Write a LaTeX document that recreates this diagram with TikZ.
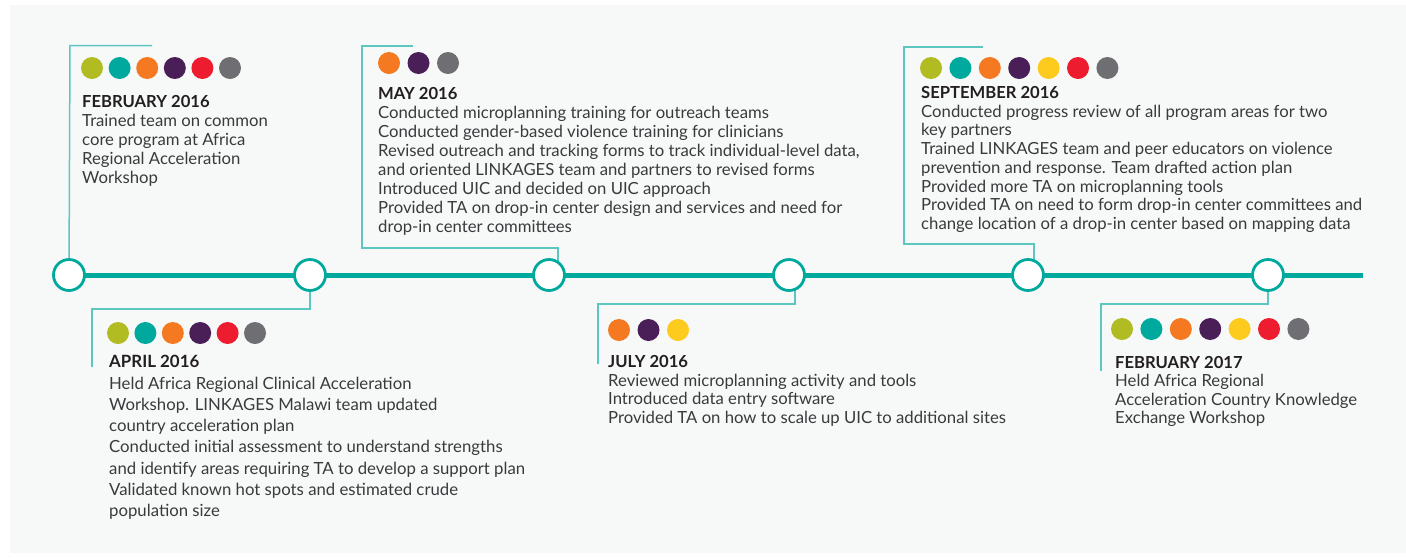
\documentclass[tikz,border=0pt]{standalone}
\usepackage{fontspec}
\setmainfont{Lato}
\definecolor{bgc}{HTML}{F7F9F9}
\definecolor{tl}{HTML}{00A99D}
\definecolor{tlc}{HTML}{5CC6BF}
\definecolor{dg}{HTML}{B0BC22}
\definecolor{dt}{HTML}{00A99D}
\definecolor{do}{HTML}{F47920}
\definecolor{dp}{HTML}{4A1E56}
\definecolor{dy}{HTML}{FDCB1E}
\definecolor{dr}{HTML}{ED1C2E}
\definecolor{dgr}{HTML}{6E6E73}
\definecolor{ttc}{HTML}{231F20}
\definecolor{bdc}{HTML}{3A3A3C}
\begin{document}
\begin{tikzpicture}[x=1pt,y=-1pt,
  conn/.style={draw=tlc,line width=1.5pt},
  mile/.style={circle,draw=tl,line width=2.8pt,fill=white,minimum size=31pt,inner sep=0pt},
  ttl/.style={anchor=base west,inner sep=0pt,text=ttc,font=\fontsize{16.6}{19}\selectfont\bfseries},
  body/.style={anchor=base west,inner sep=0pt,text=bdc,font=\fontsize{16.7}{19}\selectfont},
  bodyb/.style={anchor=base west,inner sep=0pt,text=bdc,font=\fontsize{16.75}{20}\selectfont},
  ttlb/.style={anchor=base west,inner sep=0pt,text=ttc,font=\fontsize{16.9}{20}\selectfont\bfseries}]
\useasboundingbox (0,0) rectangle (1406,558);
\fill[bgc] (10,5) rectangle (1406,553);

% milestones (positions)
\coordinate (p1) at (69,275);
\coordinate (p2) at (310,275);
\coordinate (p3) at (549,275);
\coordinate (p4) at (789,275);
\coordinate (p5) at (1028,275);
\coordinate (p6) at (1268,275);
\coordinate (tend) at (1363,275);

% connectors
\coordinate (f1a) at (70,45.5);
\coordinate (f1b) at (152,45.5);
\draw[conn] (p1) -- (f1a) -- (f1b);

\coordinate (a2a) at (92,309);
\coordinate (a2b) at (92,367);
\draw[conn] (p2) |- (a2a) -- (a2b);

\coordinate (m3a) at (413,46);
\coordinate (m3b) at (362,46);
\coordinate (m3c) at (362,248);
\coordinate (m3d) at (558,248);
\draw[conn] (m3a) -- (m3b) -- (m3c) -- (m3d) -- (m3d |- p3);

\coordinate (j4a) at (795,304);
\coordinate (j4b) at (598,304);
\coordinate (j4c) at (598,364);
\draw[conn] (j4a |- p4) -- (j4a) -- (j4b) -- (j4c);

\coordinate (s5a) at (983,47);
\coordinate (s5b) at (904,47);
\coordinate (s5c) at (904,244);
\coordinate (s5d) at (1034,244);
\draw[conn] (s5a) -- (s5b) -- (s5c) -- (s5d) -- (s5d |- p5);

\coordinate (e6a) at (1101,304);
\coordinate (e6b) at (1101,371);
\draw[conn] (p6) |- (e6a) -- (e6b);

% timeline
\draw[tl,line width=5pt] (p1) -- (tend);
\foreach \i in {1,...,6} \node[mile] (c\i) at (p\i) {};

% dots
\foreach \c [count=\i from 0] in {dg,dt,do,dp,dr,dgr} \fill[\c] (92+27.6*\i,68) circle (11);
\foreach \c [count=\i from 0] in {dg,dt,do,dp,dr,dgr} \fill[\c] (118+27.4*\i,333) circle (11);
\foreach \c [count=\i from 0] in {do,dp,dgr} \fill[\c] (389+29.5*\i,63) circle (11);
\foreach \c [count=\i from 0] in {do,dp,dy} \fill[\c] (619+29.5*\i,330) circle (11);
\foreach \c [count=\i from 0] in {dg,dt,do,dp,dy,dr,dgr} \fill[\c] (931+29.4*\i,68) circle (11);
\foreach \c [count=\i from 0] in {dg,dt,do,dp,dy,dr,dgr} \fill[\c] (1122+29.4*\i,329) circle (11);

% February 2016
\node[ttl] (t1) at (82,107) {FEBRUARY 2016};
\foreach \s [count=\i] in {Trained team on common,core program at Africa,Regional Acceleration,Workshop}
  \node[body] (b1-\i) at (82,107+19*\i) {\s};

% April 2016
\node[ttlb] (t2) at (109,367) {APRIL 2016};
\foreach \s [count=\i] in {Held Africa Regional Clinical Acceleration,Workshop. LINKAGES Malawi team updated,country acceleration plan,Conducted initial assessment to understand strengths,and identify areas requiring TA to develop a support plan,Validated known hot spots and estimated crude,population size}
  \node[bodyb] (b2-\i) at (109,368+21.2*\i) {\s};

% May 2016
\node[ttl] (t3) at (378,99) {MAY 2016};
\foreach \s [count=\i] in {Conducted microplanning training for outreach teams,Conducted gender-based violence training for clinicians,{Revised outreach and tracking forms to track individual-level data,},and oriented LINKAGES team and partners to revised forms,Introduced UIC and decided on UIC approach,Provided TA on drop-in center design and services and need for,drop-in center committees}
  \node[body] (b3-\i) at (378,99+19*\i) {\s};

% July 2016
\node[ttl] (t4) at (608,367) {JULY 2016};
\foreach \s [count=\i] in {Reviewed microplanning activity and tools,Introduced data entry software,Provided TA on how to scale up UIC to additional sites}
  \node[body] (b4-\i) at (608,367.5+18.5*\i) {\s};

% September 2016
\node[ttl] (t5) at (921,98) {SEPTEMBER 2016};
\foreach \s [count=\i] in {Conducted progress review of all program areas for two,key partners,Trained LINKAGES team and peer educators on violence,prevention and response. Team drafted action plan,Provided more TA on microplanning tools,Provided TA on need to form drop-in center committees and,change location of a drop-in center based on mapping data}
  \node[body] (b5-\i) at (921,98.5+18.7*\i) {\s};

% February 2017
\node[ttl] (t6) at (1115,368) {FEBRUARY 2017};
\foreach \s [count=\i] in {Held Africa Regional,Acceleration Country Knowledge,Exchange Workshop}
  \node[body] (b6-\i) at (1115,368.5+18.3*\i) {\s};
\end{tikzpicture}
\end{document}
